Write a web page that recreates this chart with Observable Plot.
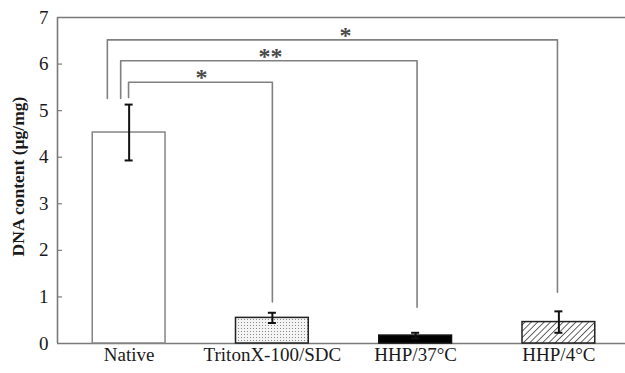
<!DOCTYPE html>
<html>
<head>
<meta charset="utf-8">
<script src="https://cdn.jsdelivr.net/npm/d3@7"></script>
<script src="https://cdn.jsdelivr.net/npm/@observablehq/plot@0.6"></script>
<style>
  html, body { margin: 0; padding: 0; background: #fff; }
  #chart svg { display: block; }
</style>
</head>
<body>
<div id="chart"></div>
<script>
// ---- data ----
const categories = ["Native", "TritonX-100/SDC", "HHP/37°C", "HHP/4°C"];
const means = [4.53, 0.55, 0.17, 0.46];
const errors = [0.60, 0.11, 0.06, 0.23];
const yTicks = [0, 1, 2, 3, 4, 5, 6, 7];
const yLabel = "DNA content (µg/mg)";

// significance brackets (in data units: x = category index, y = value)
const bracketLabels = ["*", "**", "*"];
const bracketFrom = [-0.152, -0.059, -0.004];
const bracketTo = [2.99, 2.01, 1.0];
const bracketTop = [6.52, 6.07, 5.61];
const bracketLeftBottom = [5.26, 5.26, 5.28];
const bracketRightBottom = [1.10, 0.78, 0.89];
const starX = [1.51, 0.987, 0.505];

// ---- styles ----
const barFills = ["#ffffff", "url(#dots)", "#000000", "url(#hatch)"];
const barStrokes = ["#858585", "#222222", "#111111", "#222222"];

const bars = categories.map((c, i) => ({i, c, mean: means[i], err: errors[i]}));
const bracketPts = bracketLabels.flatMap((lab, k) => [
  {k, x: bracketFrom[k], y: bracketLeftBottom[k]},
  {k, x: bracketFrom[k], y: bracketTop[k]},
  {k, x: bracketTo[k], y: bracketTop[k]},
  {k, x: bracketTo[k], y: bracketRightBottom[k]}
]);
const stars = bracketLabels.map((lab, k) => ({x: starX[k], y: bracketTop[k], text: lab}));

const axisColor = "#7a7a7a";
const halfBar = 0.254;
const capHalf = 0.028;

const chart = Plot.plot({
  width: 625,
  height: 373,
  marginLeft: 57,
  marginRight: 0,
  marginTop: 17,
  marginBottom: 30,
  style: {fontFamily: "'Liberation Serif', 'Times New Roman', serif", fontSize: "19px", color: "#1a1a1a", background: "#fff"},
  x: {type: "linear", domain: [-0.5, 3.465]},
  y: {domain: [0, 7]},
  color: {type: "identity"},
  marks: [
    // frame lines
    Plot.ruleY([0, 7], {stroke: axisColor, strokeWidth: 1.6}),
    Plot.ruleX([-0.5], {stroke: axisColor, strokeWidth: 1.6}),
    // inward y ticks
    Plot.ruleY(yTicks.filter(t => t > 0 && t < 7), {x1: -0.5, x2: -0.5 + 5 / 143, stroke: axisColor, strokeWidth: 1.2}),
    // bars
    Plot.rectY(bars, {x1: d => d.i - halfBar, x2: d => d.i + halfBar, y1: 0, y2: "mean",
      fill: d => barFills[d.i], stroke: d => barStrokes[d.i], strokeWidth: 1.5}),
    // error bars
    Plot.ruleX(bars, {x: "i", y1: d => d.mean - d.err, y2: d => d.mean + d.err, stroke: "#111", strokeWidth: 2}),
    Plot.ruleY(bars, {y: d => d.mean + d.err, x1: d => d.i - capHalf, x2: d => d.i + capHalf, stroke: "#111", strokeWidth: 2}),
    Plot.ruleY(bars, {y: d => d.mean - d.err, x1: d => d.i - capHalf, x2: d => d.i + capHalf, stroke: "#111", strokeWidth: 2}),
    // brackets
    Plot.line(bracketPts, {x: "x", y: "y", z: "k", stroke: "#808080", strokeWidth: 1.6}),
    Plot.text(stars, {x: "x", y: "y", text: "text", fontSize: 24, fontWeight: "bold", fill: "#4a4a4a", dy: 3, lineAnchor: "bottom"}),
    // axes
    Plot.axisX({ticks: [0, 1, 2, 3], tickFormat: i => categories[i], tickSize: 0, tickPadding: 4, label: null, fontSize: 19}),
    Plot.axisY({ticks: yTicks, tickFormat: d3.format("d"), tickSize: 0, tickPadding: 9, label: null, fontSize: 19}),
    Plot.text([yLabel], {text: d => d, frameAnchor: "left", textAnchor: "middle", rotate: -90, dx: -39, dy: -4, fontWeight: "bold", fontSize: 17.5, fill: "#1a1a1a"})
  ]
});

// pattern definitions for bar fills
const ns = "http://www.w3.org/2000/svg";
const defs = document.createElementNS(ns, "defs");
defs.innerHTML = `
  <pattern id="dots" patternUnits="userSpaceOnUse" width="3" height="3">
    <rect width="3" height="3" fill="#f4f4f4"/>
    <rect x="1" y="1" width="1" height="1" fill="#8a8a8a"/>
  </pattern>
  <pattern id="hatch" patternUnits="userSpaceOnUse" width="4.5" height="4.5" patternTransform="rotate(45)">
    <rect width="4.5" height="4.5" fill="#ffffff"/>
    <line x1="0" y1="0" x2="0" y2="4.5" stroke="#222" stroke-width="1.4"/>
  </pattern>`;
chart.insertBefore(defs, chart.firstChild);
document.getElementById("chart").appendChild(chart);
</script>
</body>
</html>
